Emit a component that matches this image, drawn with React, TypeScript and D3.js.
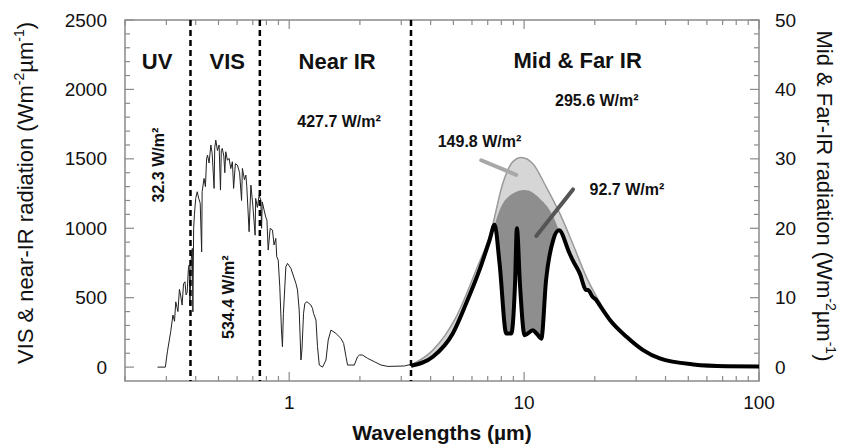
import * as d3 from 'd3';
import React, { useEffect, useRef } from 'react';

// solar spectrum at the surface (left axis, W m-2 um-1)
const solarWl = [0.275, 0.297, 0.303, 0.313, 0.32, 0.325, 0.329, 0.333, 0.336, 0.341, 0.345, 0.35, 0.355, 0.36, 0.364, 0.368, 0.372, 0.375, 0.378, 0.383, 0.387, 0.389, 0.392, 0.395, 0.4, 0.406, 0.412, 0.418, 0.424, 0.426, 0.434, 0.44, 0.445, 0.449, 0.456, 0.464, 0.47, 0.479, 0.482, 0.487, 0.495, 0.503, 0.51, 0.514, 0.519, 0.527, 0.532, 0.537, 0.546, 0.555, 0.564, 0.573, 0.58, 0.59, 0.602, 0.615, 0.627, 0.632, 0.645, 0.654, 0.66, 0.675, 0.687, 0.7, 0.716, 0.72, 0.732, 0.745, 0.757, 0.763, 0.768, 0.782, 0.795, 0.804, 0.814, 0.83, 0.849, 0.862, 0.877, 0.885, 0.898, 0.912, 0.927, 0.936, 0.945, 0.968, 0.984, 1.017, 1.068, 1.085, 1.103, 1.122, 1.133, 1.151, 1.166, 1.19, 1.237, 1.257, 1.27, 1.3, 1.32, 1.343, 1.387, 1.434, 1.466, 1.506, 1.58, 1.66, 1.705, 1.745, 1.772, 1.892, 1.955, 1.988, 2.05, 2.158, 2.304, 2.46, 2.63, 3.09, 3.3];
const solarVal = [0, 0, 110, 255, 375, 330, 470, 430, 400, 560, 519, 447, 600, 615, 520, 540, 700, 735, 447, 780, 855, 398, 1000, 1100, 1215, 1263, 1215, 1180, 830, 1263, 1359, 1300, 1500, 1527, 1470, 1600, 1540, 1287, 1580, 1635, 1560, 1600, 1275, 1560, 1575, 1520, 1400, 1551, 1490, 1503, 1430, 1479, 1287, 1465, 1455, 1400, 1200, 1431, 1350, 1383, 1300, 975, 1311, 1167, 950, 1215, 1150, 1239, 1203, 1000, 1190, 1131, 1080, 1059, 843, 999, 987, 880, 927, 795, 771, 579, 267, 147, 387, 723, 747, 711, 603, 555, 411, 51, 123, 387, 459, 471, 447, 423, 387, 339, 147, 15, 0, 51, 195, 267, 243, 207, 171, 75, 15, 15, 75, 87, 87, 63, 39, 15, 5, 8, 20];

// outgoing IR spectrum (right axis, W m-2 um-1)
const irWl = [3.3, 4.09, 4.97, 5.67, 6.46, 7.13, 7.49, 7.86, 8.4, 8.82, 9.15, 9.32, 9.6, 10.05, 10.9, 11.3, 11.84, 12.4, 13.3, 14.07, 15.6, 16.1, 17.25, 18.4, 18.7, 19.6, 20.3, 21.0, 23.2, 27.3, 32.1, 37.8, 52.5, 72.8, 100];
const irVal = [0.2, 1.5, 4.85, 9.2, 14.0, 18.3, 20.5, 15.0, 4.85, 4.85, 12, 20.0, 12, 4.6, 5.3, 4.85, 4.1, 12.5, 18.3, 19.7, 16.4, 15.4, 13.5, 11.1, 11.1, 10.1, 9.65, 8.9, 6.8, 4.37, 2.45, 1.25, 0.39, 0.14, 0.1];

// surface emission envelope (light gray)
const surfWl = [3.3, 4.09, 5.14, 6.25, 7.25, 8.12, 8.96, 9.73, 10.9, 12.4, 14.2, 16.1, 18.4, 21.0, 23.2];
const surfVal = [0.3, 2.45, 7.25, 14.0, 19.7, 26.5, 29.6, 30.2, 29.3, 26.0, 22.1, 17.8, 13.0, 9.3, 6.8];

// window band envelope (dark gray)
const winWl = [7.49, 7.86, 8.96, 10.05, 11.65, 13.3, 14.07];
const winVal = [20.5, 22.6, 25.0, 25.5, 24.3, 21.7, 19.7];

const bandEdges = [0.38, 0.75, 3.3];
const leftTicks = [0, 500, 1000, 1500, 2000, 2500];
const rightTicks = [0, 10, 20, 30, 40, 50];
const xTickLabels = [1, 10, 100];

const FONT = '"Liberation Sans", Arial, Helvetica, sans-serif';

const App: React.FC = () => {
  const ref = useRef<SVGSVGElement>(null);

  useEffect(() => {
    const width = 841;
    const height = 448;
    const m = { top: 20, right: 82, bottom: 67, left: 125 };

    const svg = d3.select(ref.current);
    svg.selectAll('*').remove();

    const x = d3.scaleLog().domain([0.2, 100]).range([m.left, width - m.right]);
    const yL = d3.scaleLinear().domain([-100, 2500]).range([height - m.bottom, m.top]);
    const yR = d3.scaleLinear().domain([-2, 50]).range([height - m.bottom, m.top]);

    const x0 = m.left, x1 = width - m.right, yTop = m.top, yBot = height - m.bottom;

    const solar = solarWl.map((w, i) => [w, solarVal[i]] as [number, number]);
    const ir = irWl.map((w, i) => [w, irVal[i]] as [number, number]);
    const surf = surfWl.map((w, i) => [w, surfVal[i]] as [number, number]);
    const win = winWl.map((w, i) => [w, winVal[i]] as [number, number]);

    const areaR = d3.area<[number, number]>()
      .x(d => x(d[0])).y0(yR(0)).y1(d => yR(d[1]))
      .curve(d3.curveMonotoneX);
    const lineR = d3.line<[number, number]>()
      .x(d => x(d[0])).y(d => yR(d[1]))
      .curve(d3.curveMonotoneX);

    // light gray envelope
    svg.append('path').attr('d', areaR(surf)).attr('fill', '#d6d6d6');
    svg.append('path').attr('d', lineR(surf)).attr('fill', 'none')
      .attr('stroke', '#9a9a9a').attr('stroke-width', 1.5);
    // dark gray window
    svg.append('path').attr('d', areaR(win)).attr('fill', '#8e8e8e');
    // blank out below the outgoing spectrum
    svg.append('path').attr('d', areaR(ir)).attr('fill', '#fff');

    // frame
    svg.append('rect')
      .attr('x', x0).attr('y', yTop).attr('width', x1 - x0).attr('height', yBot - yTop)
      .attr('fill', 'none').attr('stroke', '#8a8a8a').attr('stroke-width', 1.5);

    const ticks = svg.append('g').attr('stroke', '#8a8a8a').attr('stroke-width', 1.2);
    // left ticks
    d3.range(0, 2501, 100).forEach(v => {
      const len = v % 500 === 0 ? 9 : 5;
      ticks.append('line').attr('x1', x0).attr('x2', x0 + len).attr('y1', yL(v)).attr('y2', yL(v));
    });
    // right ticks
    d3.range(0, 51, 2).forEach(v => {
      const len = v % 10 === 0 ? 9 : 5;
      ticks.append('line').attr('x1', x1).attr('x2', x1 - len).attr('y1', yR(v)).attr('y2', yR(v));
    });
    // log ticks top and bottom
    x.ticks().forEach(t => {
      const major = xTickLabels.includes(t);
      const len = major ? 9 : 5;
      ticks.append('line').attr('x1', x(t)).attr('x2', x(t)).attr('y1', yBot).attr('y2', yBot - len);
      ticks.append('line').attr('x1', x(t)).attr('x2', x(t)).attr('y1', yTop).attr('y2', yTop + len);
    });

    // solar spectrum
    svg.append('path')
      .datum(solar)
      .attr('fill', 'none')
      .attr('stroke', '#222')
      .attr('stroke-width', 1)
      .attr('stroke-linejoin', 'round')
      .attr('d', d3.line<[number, number]>().x(d => x(d[0])).y(d => yL(d[1])));

    // outgoing IR
    svg.append('path').attr('d', lineR(ir)).attr('fill', 'none')
      .attr('stroke', '#000').attr('stroke-width', 4).attr('stroke-linejoin', 'round');

    // band separators
    svg.selectAll('.edge')
      .data(bandEdges)
      .join('line')
      .attr('x1', d => x(d)).attr('x2', d => x(d))
      .attr('y1', yTop).attr('y2', yBot)
      .attr('stroke', '#000').attr('stroke-width', 2.5)
      .attr('stroke-dasharray', '6,4');

    // pointers
    svg.append('line')
      .attr('x1', x(6.57)).attr('y1', yR(29.8)).attr('x2', x(9.26)).attr('y2', yR(27.7))
      .attr('stroke', '#a8a8a8').attr('stroke-width', 4).attr('stroke-linecap', 'round');
    svg.append('line')
      .attr('x1', x(16.15)).attr('y1', yR(25.6)).attr('x2', x(11.27)).attr('y2', yR(18.9))
      .attr('stroke', '#555').attr('stroke-width', 4).attr('stroke-linecap', 'round');

    const txt = svg.append('g').attr('font-family', FONT).attr('fill', '#111');

    // tick labels
    leftTicks.forEach(v => {
      txt.append('text').attr('x', x0 - 18).attr('y', yL(v)).attr('dy', '0.35em')
        .attr('text-anchor', 'end').attr('font-size', 19).text(v);
    });
    rightTicks.forEach(v => {
      txt.append('text').attr('x', x1 + 16).attr('y', yR(v)).attr('dy', '0.35em')
        .attr('text-anchor', 'start').attr('font-size', 19).text(v);
    });
    xTickLabels.forEach(v => {
      txt.append('text').attr('x', x(v)).attr('y', yBot + 28)
        .attr('text-anchor', 'middle').attr('font-size', 19).text(v);
    });

    // band titles
    const title = (t: string, w: number, v: number) =>
      txt.append('text').attr('x', x(w)).attr('y', yL(v)).attr('text-anchor', 'middle')
        .attr('font-size', 22).attr('font-weight', 'bold').text(t);
    title('UV', 0.274, 2147);
    title('VIS', 0.545, 2147);
    title('Near IR', 1.6, 2147);
    title('Mid & Far IR', 16.9, 2154);

    // flux values
    const flux = (t: string, px: number, py: number, rot = 0) =>
      txt.append('text')
        .attr('transform', `translate(${px},${py}) rotate(${rot})`)
        .attr('text-anchor', 'middle').attr('font-size', 16).attr('font-weight', 'bold').text(t);
    flux('427.7 W/m²', x(1.63), yL(1729));
    flux('295.6 W/m²', x(20.4), yR(37.6));
    flux('149.8 W/m²', x(6.46), yR(31.7));
    flux('92.7 W/m²', x(27.4), yR(24.8));
    flux('32.3 W/m²', x(0.293), yL(1455), -90);
    flux('534.4 W/m²', x(0.583), yL(504), -90);

    // axis titles
    const axisTitle = (px: number, py: number, rot: number, lead: string) => {
      const t = txt.append('text')
        .attr('transform', `translate(${px},${py}) rotate(${rot})`)
        .attr('text-anchor', 'middle').attr('font-size', 22);
      t.append('tspan').text(lead + ' (Wm');
      t.append('tspan').attr('font-size', 14).attr('dy', -9).text('-2');
      t.append('tspan').attr('dy', 9).text('µm');
      t.append('tspan').attr('font-size', 14).attr('dy', -9).text('-1');
      t.append('tspan').attr('dy', 9).text(')');
    };
    axisTitle(33, 193, -90, 'VIS & near-IR radiation');
    axisTitle(817, 196, 90, 'Mid & Far-IR radiation');

    txt.append('text').attr('x', (x0 + x1) / 2).attr('y', 440)
      .attr('text-anchor', 'middle').attr('font-size', 21).attr('font-weight', 'bold')
      .text('Wavelengths (µm)');
  }, []);

  return (
    <svg
      ref={ref}
      width={841}
      height={448}
      style={{ position: 'absolute', left: 0, top: 0, background: '#fff' }}
    />
  );
};

export default App;
